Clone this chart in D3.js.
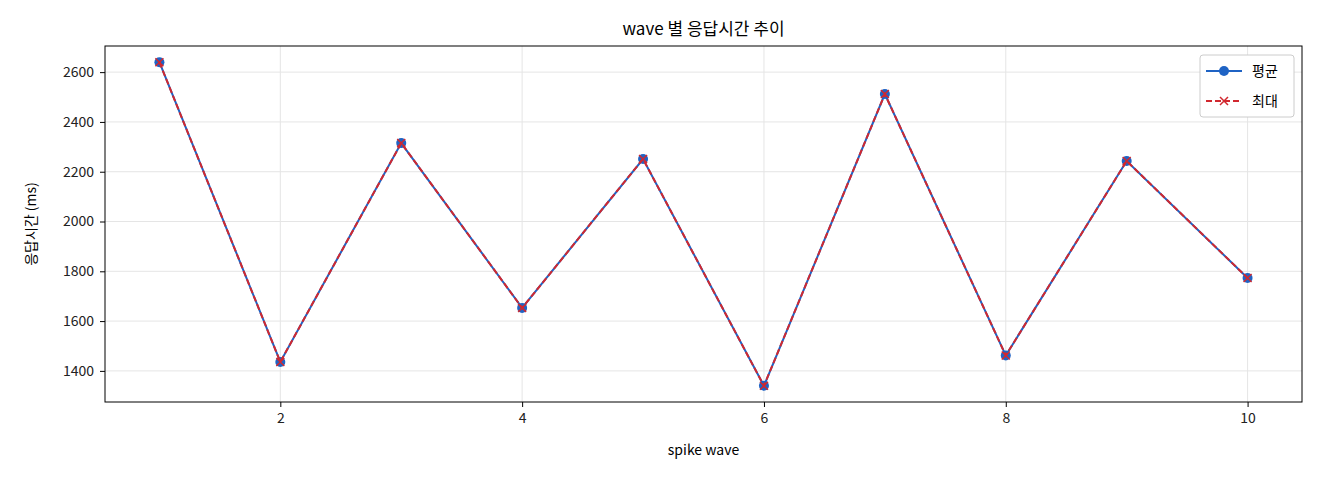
<!DOCTYPE html><html><head><meta charset="utf-8"><script src="https://cdn.jsdelivr.net/npm/d3@7"></script>
<style>body{margin:0;background:#fff}text{font-family:"Noto Sans CJK KR","DejaVu Sans",sans-serif}</style></head><body>
<svg id="c" width="1320" height="480"></svg>
<script>
const waves=[1,2,3,4,5,6,7,8,9,10];
const avgVals=[2640,1436,2315,1653,2251,1340,2512,1462,2243,1773];
const maxVals=[2640,1436,2315,1653,2251,1340,2512,1462,2243,1773];
const xTicks=[2,4,6,8,10];
const yTicks=[1400,1600,1800,2000,2200,2400,2600];
const svg=d3.select("#c");
const L=105,R=1302,T=46,B=402;
const x=d3.scaleLinear().domain([0.55,10.45]).range([L,R]);
const y=d3.scaleLinear().domain([1275,2705]).range([B,T]);
const g=svg.append("g");
g.selectAll(".gx").data(xTicks).enter().append("line").attr("x1",d=>x(d)).attr("x2",d=>x(d)).attr("y1",T).attr("y2",B).attr("stroke","#e5e5e5");
g.selectAll(".gy").data(yTicks).enter().append("line").attr("y1",d=>y(d)).attr("y2",d=>y(d)).attr("x1",L).attr("x2",R).attr("stroke","#e5e5e5");
const ax=svg.append("g").attr("transform",`translate(0,${B})`).call(d3.axisBottom(x).tickValues(xTicks).tickFormat(d3.format("d")).tickSize(5).tickPadding(6));
const ay=svg.append("g").attr("transform",`translate(${L},0)`).call(d3.axisLeft(y).tickValues(yTicks).tickFormat(d3.format("d")).tickSize(5).tickPadding(6));
[ax,ay].forEach(a=>{a.select(".domain").remove();a.attr("font-size",14);a.selectAll("text").attr("fill","#222");});
svg.append("rect").attr("x",L).attr("y",T).attr("width",R-L).attr("height",B-T).attr("fill","none").attr("stroke","#000");
const line=d3.line().x((d,i)=>x(waves[i])).y(d=>y(d));
svg.append("path").attr("d",line(avgVals)).attr("fill","none").attr("stroke","#1f63c4").attr("stroke-width",2);
svg.selectAll(".m").data(avgVals).enter().append("circle").attr("cx",(d,i)=>x(waves[i])).attr("cy",d=>y(d)).attr("r",5).attr("fill","#1f63c4");
svg.append("path").attr("d",line(maxVals)).attr("fill","none").attr("stroke","#d1282f").attr("stroke-width",2).attr("stroke-dasharray","6,3");
const cross=(s,cx,cy,r)=>s.append("path").attr("d",`M${cx-r},${cy-r}L${cx+r},${cy+r}M${cx-r},${cy+r}L${cx+r},${cy-r}`).attr("stroke","#d1282f").attr("stroke-width",1.5);
maxVals.forEach((d,i)=>cross(svg,x(waves[i]),y(d),4));
svg.append("text").attr("x",(L+R)/2).attr("y",35).attr("text-anchor","middle").attr("font-size",17).text("wave 별 응답시간 추이");
svg.append("text").attr("x",(L+R)/2).attr("y",455).attr("text-anchor","middle").attr("font-size",14).text("spike wave");
svg.append("text").attr("transform",`translate(36,${(T+B)/2}) rotate(-90)`).attr("text-anchor","middle").attr("font-size",14).text("응답시간 (ms)");
const lg=svg.append("g");
lg.append("rect").attr("x",1200).attr("y",55).attr("width",94).attr("height",62).attr("rx",3).attr("fill","#fff").attr("stroke","#ccc");
lg.append("line").attr("x1",1206).attr("x2",1242).attr("y1",71).attr("y2",71).attr("stroke","#1f63c4").attr("stroke-width",2);
lg.append("circle").attr("cx",1224).attr("cy",71).attr("r",5).attr("fill","#1f63c4");
lg.append("line").attr("x1",1206).attr("x2",1242).attr("y1",101).attr("y2",101).attr("stroke","#d1282f").attr("stroke-width",2).attr("stroke-dasharray","6,3");
cross(lg,1224,101,4);
lg.append("text").attr("x",1252).attr("y",76).attr("font-size",14).text("평균");
lg.append("text").attr("x",1252).attr("y",106).attr("font-size",14).text("최대");
</script></body></html>
